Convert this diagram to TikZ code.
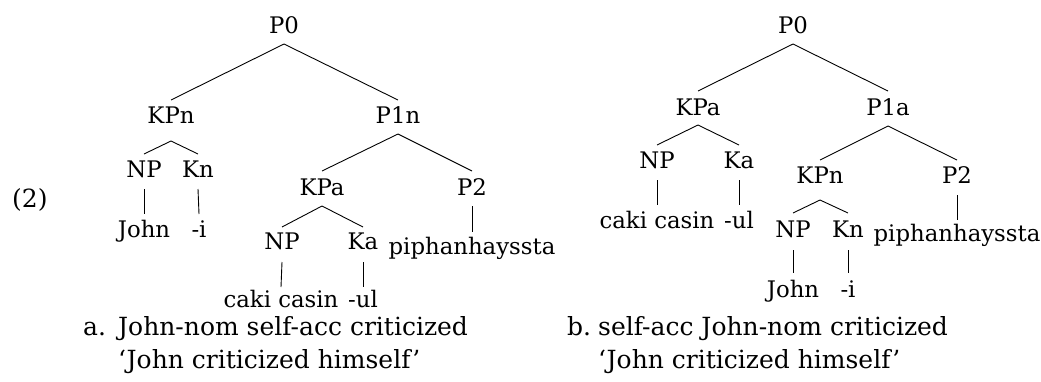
\documentclass[tikz,border=0pt]{standalone}
\usepackage{fontspec}
\setmainfont{DejaVu Serif}
\newcommand{\treeedge}[4]{\draw[edge] ([yshift=-#2pt]#1.base) -- ([yshift=#4pt]#3.base);}
\begin{document}
\begin{tikzpicture}[x=1pt,y=-1pt,
  lab/.style={font=\fontsize{22.8}{27}\selectfont, anchor=base, inner sep=0pt},
  capt/.style={font=\fontsize{25}{30}\selectfont, anchor=base west, inner sep=0pt},
  edge/.style={line width=0.9pt, black}]
\useasboundingbox (0,0) rectangle (1041,381);
% left tree
\node[lab] (P0L) at (284,33) {P0};
\node[lab] (KPnL) at (171,123) {KPn};
\node[lab] (P1nL) at (398,123) {P1n};
\node[lab] (NP1) at (144,177) {NP};
\node[lab] (Kn1) at (198,177) {Kn};
\node[lab] (John1) at (144,237) {John};
\node[lab] (i1) at (199,237) {-i};
\node[lab] (KPaL) at (322,195) {KPa};
\node[lab] (P2L) at (472,195) {P2};
\node[lab] (NP2) at (282,249) {NP};
\node[lab] (Ka2) at (363,249) {Ka};
\node[lab] (pip1) at (472,254) {piphanhayssta};
\node[lab] (caki1) at (281,307) {caki casin};
\node[lab] (ul1) at (363,307) {-ul};
\treeedge{P0L}{11}{KPnL}{23}
\treeedge{P0L}{11}{P1nL}{23}
\treeedge{KPnL}{18}{NP1}{23}
\treeedge{KPnL}{18}{Kn1}{23}
\treeedge{NP1}{12}{John1}{23}
\treeedge{Kn1}{12}{i1}{23}
\treeedge{P1nL}{11}{KPaL}{24}
\treeedge{P1nL}{11}{P2L}{24}
\treeedge{KPaL}{11}{NP2}{22}
\treeedge{KPaL}{11}{Ka2}{22}
\treeedge{P2L}{11}{pip1}{22}
\treeedge{NP2}{13}{caki1}{20}
\treeedge{Ka2}{13}{ul1}{20}
% right tree
\node[lab] (P0R) at (793,33) {P0};
\node[lab] (KPaR) at (698,115) {KPa};
\node[lab] (P1aR) at (888,115) {P1a};
\node[lab] (NP3) at (657,168) {NP};
\node[lab] (Ka3) at (739,168) {Ka};
\node[lab] (caki2) at (657,228) {caki casin};
\node[lab] (ul2) at (739,228) {-ul};
\node[lab] (KPnR) at (820,183) {KPn};
\node[lab] (P2R) at (957,183) {P2};
\node[lab] (NP4) at (793,237) {NP};
\node[lab] (Kn4) at (848,237) {Kn};
\node[lab] (pip2) at (957,241) {piphanhayssta};
\node[lab] (John2) at (793,297) {John};
\node[lab] (i2) at (848,297) {-i};
\treeedge{P0R}{11}{KPaR}{24}
\treeedge{P0R}{11}{P1aR}{24}
\treeedge{KPaR}{10}{NP3}{23}
\treeedge{KPaR}{10}{Ka3}{23}
\treeedge{NP3}{12}{caki2}{23}
\treeedge{Ka3}{12}{ul2}{23}
\treeedge{P1aR}{11}{KPnR}{23}
\treeedge{P1aR}{11}{P2R}{23}
\treeedge{KPnR}{17}{NP4}{24}
\treeedge{KPnR}{17}{Kn4}{24}
\treeedge{P2R}{12}{pip2}{21}
\treeedge{NP4}{13}{John2}{24}
\treeedge{Kn4}{13}{i2}{24}
% captions
\node[capt] (ex) at (12,207) {(2)};
\node[capt] (la) at (83,335) {a.};
\node[capt] (ga) at (118,335) {John-nom self-acc criticized};
\node[capt] (ta) at (118,368) {‘John criticized himself’};
\node[capt] (lb) at (567,335) {b.};
\node[capt] (gb) at (598,335) {self-acc John-nom criticized};
\node[capt] (tb) at (598,368) {‘John criticized himself’};
\end{tikzpicture}
\end{document}
